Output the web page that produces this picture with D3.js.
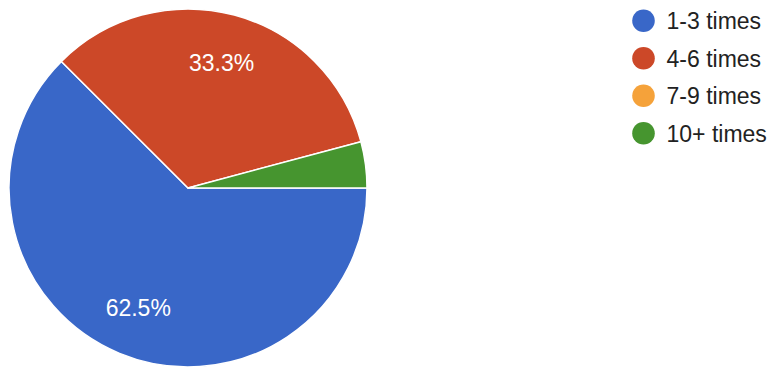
<!DOCTYPE html>
<html>
<head>
<meta charset="utf-8">
<script src="https://cdn.jsdelivr.net/npm/d3@7"></script>
<style>
  html, body { margin: 0; padding: 0; background: #fff; }
</style>
</head>
<body>
<div id="chart"></div>
<script>
// Responses per answer option (24 total)
const categories = ['1-3 times', '4-6 times', '7-9 times', '10+ times'];
const counts = [15, 8, 0, 1];
const colors = ['#3967c8', '#cc4828', '#f5a23a', '#46952f'];

const w = 780;
const h = 376;
const cx = 188;
const cy = 188;
const r = 179;

const data = categories.map((c, i) => ({ label: c, value: counts[i], color: colors[i] }));
const total = d3.sum(counts);

const svg = d3.select('#chart').append('svg').attr('width', w).attr('height', h);
const g = svg.append('g').attr('transform', `translate(${cx},${cy})`);

// start at 3 o'clock, clockwise
const pie = d3.pie().value((d) => d.value).sort(null)
  .startAngle(Math.PI / 2).endAngle(Math.PI / 2 + 2 * Math.PI);
const arc = d3.arc().innerRadius(0).outerRadius(r);
const labelArc = d3.arc().innerRadius(130).outerRadius(130);

const arcs = pie(data).filter((d) => d.data.value > 0);

g.selectAll('path')
  .data(arcs)
  .join('path')
  .attr('d', arc)
  .attr('fill', (d) => d.data.color)
  .attr('stroke', '#fff')
  .attr('stroke-width', 1.5)
  .attr('stroke-linejoin', 'round');

g.selectAll('.slice-label')
  .data(arcs.filter((d) => d.data.value / total > 0.05))
  .join('text')
  .attr('class', 'slice-label')
  .attr('transform', (d) => `translate(${labelArc.centroid(d)})`)
  .attr('text-anchor', 'middle')
  .attr('dy', '0.36em')
  .attr('fill', '#fff')
  .attr('font-size', 23)
  .attr('font-family', 'Liberation Sans, Arial, sans-serif')
  .text((d) => `${(d.data.value / total * 100).toFixed(1)}%`);

// legend
const ly = d3.scaleLinear().domain([0, 1]).range([20.8, 58.3]);
const legend = svg.append('g').attr('transform', 'translate(643.5,0)');
data.forEach((d, i) => {
  const row = legend.append('g').attr('transform', `translate(0,${ly(i)})`);
  row.append('circle').attr('r', 11.3).attr('fill', d.color);
  row
    .append('text')
    .attr('x', 23)
    .attr('dy', '0.36em')
    .attr('fill', '#222')
    .attr('font-size', 23)
    .attr('font-family', 'Liberation Sans, Arial, sans-serif')
    .text(d.label);
});
</script>
</body>
</html>
